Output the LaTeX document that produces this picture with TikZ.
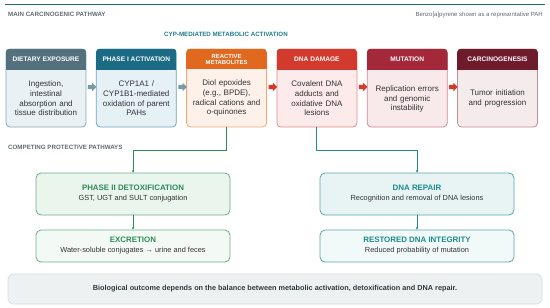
\documentclass[tikz,border=0pt]{standalone}
\usepackage{fontspec}
\setmainfont{Liberation Sans}
\usetikzlibrary{shapes.arrows,arrows.meta,calc}
\definecolor{topline}{HTML}{1E6B6B}
\definecolor{lblgray}{HTML}{5E6B70}
\definecolor{cyptxt}{HTML}{1F7A8C}
\definecolor{txt}{HTML}{333333}
\definecolor{hA}{HTML}{52717C}\definecolor{fA}{HTML}{E9F1F4}\definecolor{dA}{HTML}{8AA8B2}
\definecolor{hB}{HTML}{1B6B85}\definecolor{fB}{HTML}{E6F1F6}\definecolor{dB}{HTML}{6FA3B8}
\definecolor{hC}{HTML}{E0691F}\definecolor{fC}{HTML}{FDF1EA}\definecolor{dC}{HTML}{F2A878}
\definecolor{hD}{HTML}{D23A2E}\definecolor{fD}{HTML}{FCEBEA}\definecolor{dD}{HTML}{E58C88}
\definecolor{hE}{HTML}{A3283A}\definecolor{fE}{HTML}{F8E9EB}\definecolor{dE}{HTML}{CC8A95}
\definecolor{hF}{HTML}{6E1B2C}\definecolor{fF}{HTML}{F5EBED}\definecolor{dF}{HTML}{B98F98}
\definecolor{grayarrow}{HTML}{7A9AA2}
\definecolor{redarrow}{HTML}{D23A2E}
\definecolor{gcol}{HTML}{2E8B57}\definecolor{gfill}{HTML}{EAF5EE}\definecolor{gfill2}{HTML}{F3FAF5}\definecolor{gdraw}{HTML}{6DAE86}
\definecolor{tcol}{HTML}{1E8A8A}\definecolor{tfill}{HTML}{E8F4F4}\definecolor{tfill2}{HTML}{F2F9F9}\definecolor{tdraw}{HTML}{5AA5A5}
\definecolor{botfill}{HTML}{EEF1F2}\definecolor{botdraw}{HTML}{D5DCDF}\definecolor{bottxt}{HTML}{2F3A40}
\newcommand{\hdrband}[3]{%
  \begin{scope}
    \clip[rounded corners=4pt] (#1.north west) rectangle (#1.south east);
    \fill[#2] (#1.north west) rectangle ($(#1.north east)+(0,#3)$);
  \end{scope}}
\begin{document}
\begin{tikzpicture}[x=1pt,y=-1pt,
  stagebox/.style={rectangle, rounded corners=4pt, minimum width=80pt, minimum height=78pt, inner sep=0pt, line width=0.8pt},
  hdrtxt/.style={text=white, font=\bfseries\fontsize{6.6}{7}\selectfont, align=center, inner sep=0pt},
  bodytxt/.style={text=txt, font=\fontsize{8}{9.7}\selectfont, align=center, text width=76pt, inner sep=0pt},
  blockarrow/.style={single arrow, minimum height=8.5pt, minimum width=8.5pt, single arrow head extend=2pt, inner sep=1.9pt},
  protbox/.style={rectangle, rounded corners=5pt, minimum width=194pt, inner sep=0pt, line width=0.8pt, align=center, text=txt, font=\fontsize{7.4}{10}\selectfont},
  conn/.style={line width=0.9pt, -{Stealth[length=2.5pt,width=2.5pt]}},
  smalllbl/.style={font=\bfseries\fontsize{6.2}{7}\selectfont, inner sep=0pt}
]
\useasboundingbox (0,0) rectangle (550,308);
% top rule and labels
\draw[topline, line width=1.2pt] (5,4.3) -- (545,4.3);
\node[smalllbl, text=lblgray, anchor=west] (mainlbl) at (8,14.5) {MAIN CARCINOGENIC PATHWAY};
\node[font=\fontsize{6}{7}\selectfont, text=lblgray, anchor=east, inner sep=0pt] (bplbl) at (543,14.5) {Benzo[a]pyrene shown as a representative PAH};
\node[smalllbl, text=cyptxt] (cyplbl) at (226,34) {CYP-MEDIATED METABOLIC ACTIVATION};

% stage boxes
\node[stagebox, fill=fA, draw=dA] (b1) at (46,88) {};
\node[stagebox, fill=fB, draw=dB] (b2) at (136.3,88) {};
\node[stagebox, fill=fC, draw=dC] (b3) at (226.6,88) {};
\node[stagebox, fill=fD, draw=dD] (b4) at (316.9,88) {};
\node[stagebox, fill=fE, draw=dE] (b5) at (407.2,88) {};
\node[stagebox, fill=fF, draw=dF] (b6) at (497.5,88) {};
\hdrband{b1}{hA}{21}
\hdrband{b2}{hB}{21}
\hdrband{b3}{hC}{20}
\hdrband{b4}{hD}{21}
\hdrband{b5}{hE}{21}
\hdrband{b6}{hF}{21}

\node[hdrtxt] (h1) at (46,59.5) {DIETARY EXPOSURE};
\node[hdrtxt] (h2) at (136.3,59.5) {PHASE I ACTIVATION};
\node[hdrtxt, font=\bfseries\fontsize{5.9}{6.6}\selectfont] (h3) at (226.6,59.6) {REACTIVE\\METABOLITES};
\node[hdrtxt] (h4) at (316.9,59.5) {DNA DAMAGE};
\node[hdrtxt] (h5) at (407.2,59.5) {MUTATION};
\node[hdrtxt] (h6) at (497.5,59.5) {CARCINOGENESIS};

\node[bodytxt] (t1) at (46,98.3) {Ingestion,\\intestinal\\absorption and\\tissue distribution};
\node[bodytxt] (t2) at (136.3,98.3) {CYP1A1 /\\CYP1B1-mediated\\oxidation of parent\\PAHs};
\node[bodytxt] (t3) at (226.6,98.3) {Diol epoxides\\(e.g., BPDE),\\radical cations and\\o-quinones};
\node[bodytxt] (t4) at (316.9,98.3) {Covalent DNA\\adducts and\\oxidative DNA\\lesions};
\node[bodytxt] (t5) at (407.2,99) {Replication errors\\and genomic\\instability};
\node[bodytxt] (t6) at (497.5,98.5) {Tumor initiation\\and progression};

% block arrows between stages
\node[blockarrow, fill=grayarrow] (a12) at ($(b1.east)!0.5!(b2.west)+(0,-1)$) {};
\node[blockarrow, fill=grayarrow] (a23) at ($(b2.east)!0.5!(b3.west)+(0,-1)$) {};
\node[blockarrow, fill=redarrow] (a34) at ($(b3.east)!0.5!(b4.west)+(0,-1)$) {};
\node[blockarrow, fill=redarrow] (a45) at ($(b4.east)!0.5!(b5.west)+(0,-1)$) {};
\node[blockarrow, fill=redarrow] (a56) at ($(b5.east)!0.5!(b6.west)+(0,-1)$) {};

% protective pathways
\node[smalllbl, text=lblgray, anchor=west] (complbl) at (8,147) {COMPETING PROTECTIVE PATHWAYS};

\node[protbox, fill=gfill, draw=gdraw, minimum height=42pt] (p2) at (133,194)
  {{\bfseries\fontsize{7.9}{10}\selectfont\color{gcol}PHASE II DETOXIFICATION}\\GST, UGT and SULT conjugation};
\node[protbox, fill=gfill2, draw=gdraw, minimum height=32pt] (ex) at (133,246)
  {{\bfseries\fontsize{7.9}{10}\selectfont\color{gcol}EXCRETION}\\Water-soluble conjugates → urine and feces};
\node[protbox, fill=tfill, draw=tdraw, minimum height=42pt] (rp) at (417,194)
  {{\bfseries\fontsize{7.9}{10}\selectfont\color{tcol}DNA REPAIR}\\Recognition and removal of DNA lesions};
\node[protbox, fill=tfill2, draw=tdraw, minimum height=32pt] (rs) at (417,246)
  {{\bfseries\fontsize{7.9}{10}\selectfont\color{tcol}RESTORED DNA INTEGRITY}\\Reduced probability of mutation};

% connectors
\draw[conn, gcol] (b3.south) -- ++(0,23) -| (p2.north);
\draw[conn, tcol] (b4.south) -- ++(0,23) -| (rp.north);
\draw[conn, gcol] (p2.south) -- (ex.north);
\draw[conn, tcol] (rp.south) -- (rs.north);

% bottom summary
\node[rectangle, rounded corners=5pt, fill=botfill, draw=botdraw, line width=0.6pt, minimum width=534pt, minimum height=30pt, inner sep=0pt,
  text=bottxt, font=\bfseries\fontsize{7.3}{9}\selectfont] (sum) at (275,289)
  {Biological outcome depends on the balance between metabolic activation, detoxification and DNA repair.};
\end{tikzpicture}
\end{document}
